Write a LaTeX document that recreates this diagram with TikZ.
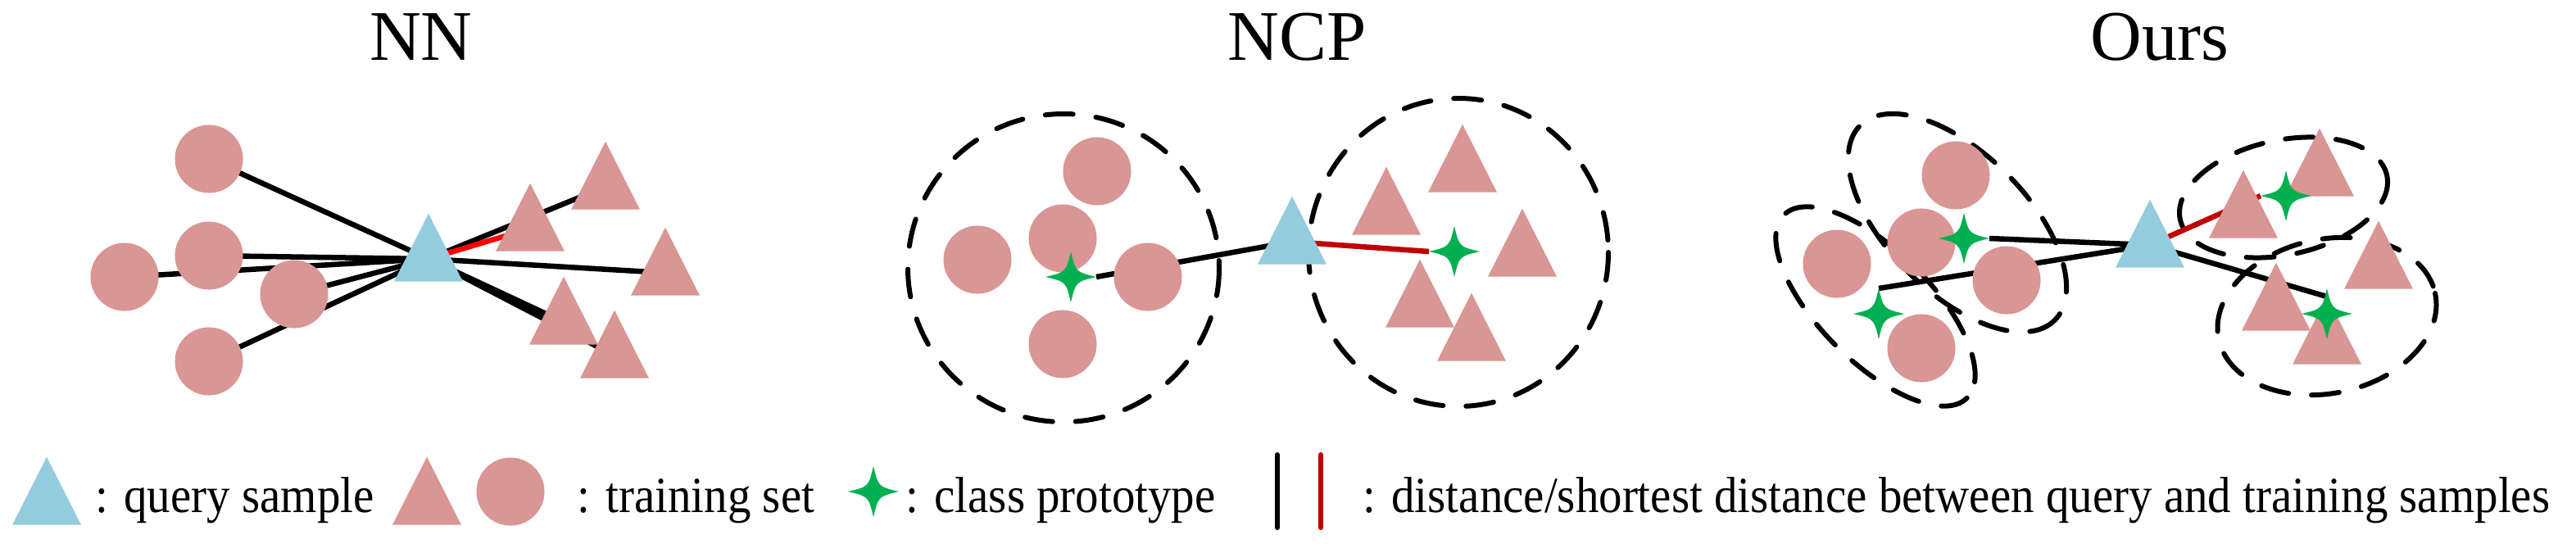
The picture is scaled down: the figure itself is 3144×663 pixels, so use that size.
\documentclass[tikz,border=0pt]{standalone}
\usepackage{fontspec}
\setmainfont{Liberation Serif}
\newfontfamily\legfont[FakeStretch=0.92]{Liberation Serif}
\usetikzlibrary{calc}
\definecolor{pinkc}{RGB}{217,150,148}
\definecolor{queryc}{RGB}{147,205,221}
\definecolor{protoc}{RGB}{0,176,80}
\definecolor{redA}{RGB}{255,0,0}
\definecolor{redB}{RGB}{192,0,0}
\begin{document}
\begin{tikzpicture}[x=0.01cm,y=-0.01cm,
  circ/.style={circle,fill=pinkc,minimum size=8.3mm,inner sep=0pt,outer sep=0pt},
  tri/.pic={\fill[pinkc] (-42,27.7) -- (42,27.7) -- (0,-55.3) -- cycle;},
  qtri/.pic={\fill[queryc] (-42,27.7) -- (42,27.7) -- (0,-55.3) -- cycle;},
  proto/.pic={\fill[protoc] (0,-31) .. controls (6,-6) .. (31,0) .. controls (6,6) .. (0,31) .. controls (-6,6) .. (-31,0) .. controls (-6,-6) .. cycle;},
  dist/.style={line width=0.65mm},
  grp/.style={line width=0.6mm,dash pattern=on 3.4mm off 2.8mm,line cap=round},
  title/.style={font=\fontsize{24.7pt}{30pt}\selectfont,anchor=base,inner sep=0pt},
  leg/.style={font=\legfont\fontsize{17.6pt}{21pt}\selectfont,anchor=base west,inner sep=0pt}
]
\useasboundingbox (0,0) rectangle (3144,663);

% titles
\node[title] (tNN) at (514,73) {NN};
\node[title] (tNCP) at (1583,73) {NCP};
\node[title] (tOurs) at (2636,73) {Ours};

% ---------------- NN ----------------
\coordinate (q1) at (523,316);
\coordinate (a1) at (739,228);
\coordinate (a2) at (647,279);
\coordinate (a3) at (812,333);
\coordinate (a4) at (688,393);
\coordinate (a5) at (750,434);
\coordinate (b1) at (255,194);
\coordinate (b2) at (255,312);
\coordinate (b3) at (152,338);
\coordinate (b4) at (359,359);
\coordinate (b5) at (255,441);
\foreach \t in {b1,b2,b3,b4,b5} \draw[dist] (\t) -- (q1);
\foreach \t in {a1,a3,a4,a5} \draw[dist] (q1) -- (\t);
\draw[dist,redA] (q1) -- (a2);
\foreach \t in {b1,b2,b3,b4,b5} \node[circ] (n\t) at (\t) {};
\foreach \t in {a1,a2,a3,a4,a5} \pic at (\t) {tri};
\pic at (q1) {qtri};

% ---------------- NCP ----------------
\coordinate (eL) at (1298,327);
\coordinate (eR) at (1780,308);
\draw[grp] (eL) ellipse (190 and 188);
\draw[grp] (eR) ellipse (183 and 188);
\coordinate (q2) at (1577,295);
\coordinate (p1) at (1307,338);
\coordinate (p2) at (1775,307);
\coordinate (c1) at (1339,209);
\coordinate (c2) at (1297,291);
\coordinate (c3) at (1193,317);
\coordinate (c4) at (1401,338);
\coordinate (c5) at (1297,420);
\coordinate (d1) at (1785,207);
\coordinate (d2) at (1692,259);
\coordinate (d3) at (1858,310);
\coordinate (d4) at (1733,372);
\coordinate (d5) at (1796,413);
\draw[dist] ($(p1)+(31,0)$) -- (q2);
\draw[dist,redB] (q2) -- ($(p2)+(-31,0)$);
\foreach \t in {c1,c2,c3,c4,c5} \node[circ] (n\t) at (\t) {};
\foreach \t in {d1,d2,d3,d4,d5} \pic at (\t) {tri};
\pic at (q2) {qtri};
\pic at (p1) {proto};
\pic at (p2) {proto};

% ---------------- Ours ----------------
\coordinate (g1) at (2389,272);
\coordinate (g2) at (2289,374);
\coordinate (g3) at (2787,241);
\coordinate (g4) at (2840,386);
\draw[grp,rotate around={-45:(g1)}] (g1) ellipse (168 and 85);
\draw[grp,rotate around={-45:(g2)}] (g2) ellipse (158 and 68);
\draw[grp,rotate around={12:(g3)}] (g3) ellipse (129 and 70);
\draw[grp,rotate around={12:(g4)}] (g4) ellipse (135 and 94);
\coordinate (q3) at (2624,299);
\coordinate (s1) at (2397,291);
\coordinate (s2) at (2293,383);
\coordinate (s3) at (2790,239);
\coordinate (s4) at (2840,383);
\coordinate (e1) at (2387,214);
\coordinate (e2) at (2345,296);
\coordinate (e3) at (2242,322);
\coordinate (e4) at (2449,342);
\coordinate (e5) at (2345,425);
\coordinate (f1) at (2831,212);
\coordinate (f2) at (2738,263);
\coordinate (f3) at (2903,325);
\coordinate (f4) at (2778,376);
\coordinate (f5) at (2840,417);
\draw[dist] ($(s1)+(31,0)$) -- (q3);
\draw[dist] ($(s2)+(0,-31)$) -- (q3);
\draw[dist] (q3) -- ($(s4)+(0,-21)$);
\draw[dist,redB] (q3) -- ($(s3)+(-31,0)$);
\foreach \t in {e1,e2,e3,e4,e5} \node[circ] (n\t) at (\t) {};
\foreach \t in {f1,f2,f3,f4,f5} \pic at (\t) {tri};
\pic at (q3) {qtri};
\foreach \t in {s1,s2,s3,s4} \pic at (\t) {proto};

% ---------------- legend ----------------
\coordinate (lq) at (57,613);
\coordinate (lt) at (521,613);
\coordinate (lc) at (623,600);
\coordinate (ls) at (1066,600);
\pic at (lq) {qtri};
\pic at (lt) {tri};
\node[circ] (nlc) at (lc) {};
\pic at (ls) {proto};
\coordinate (lb1) at (1559,555);
\coordinate (lb2) at (1559,644);
\coordinate (lr1) at (1612,555);
\coordinate (lr2) at (1612,644);
\draw[line width=0.6mm,line cap=round] (lb1) -- (lb2);
\draw[line width=0.6mm,line cap=round,redB] (lr1) -- (lr2);
\node[leg] (l1) at (116,625) {: query sample};
\node[leg] (l2) at (704,625) {: training set};
\node[leg] (l3) at (1105,625) {: class prototype};
\node[leg] (l4) at (1663,625) {: distance/shortest distance between query and training samples};
\end{tikzpicture}
\end{document}
